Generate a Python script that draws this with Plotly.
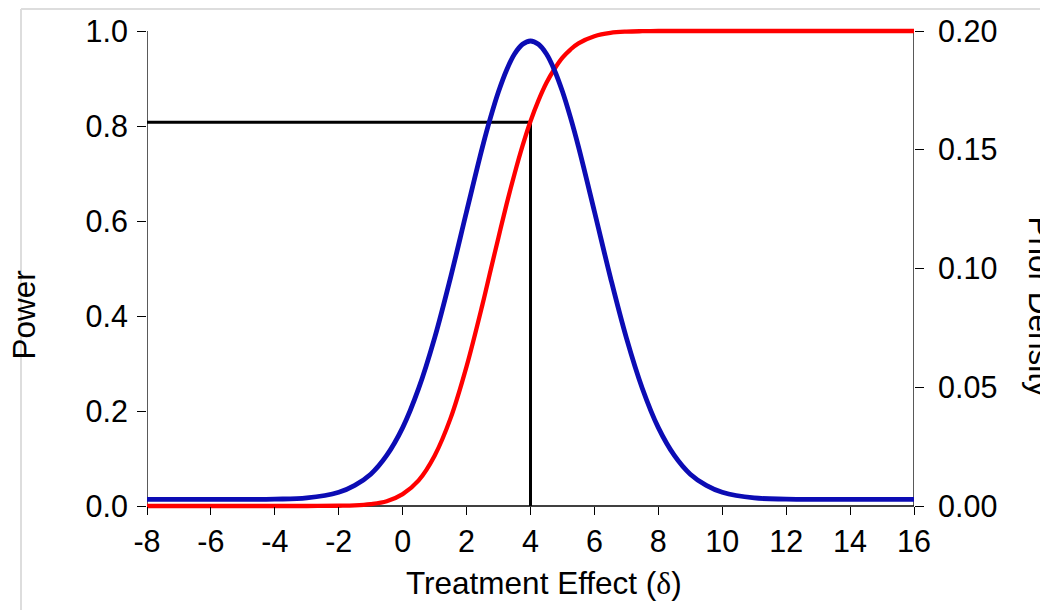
import plotly.graph_objects as go

# ---- data ----
effect = [-8, -7, -6, -5, -4, -3, -2, -1.5, -1, -0.5, 0, 0.5, 1, 1.5, 2, 2.5, 2.75, 3,
          3.25, 3.5, 3.75, 4, 4.25, 4.5, 4.75, 5, 5.25, 5.5, 6, 6.5, 7, 7.5, 8, 8.5, 9,
          9.5, 10, 11, 12, 13, 14, 15, 16]

power = [0.0, 0.0, 0.0, 0.0, 0.0, 0.0, 0.0005, 0.0013, 0.004, 0.010, 0.025, 0.054,
         0.106, 0.185, 0.294, 0.425, 0.496, 0.566, 0.635, 0.699, 0.758, 0.810, 0.854,
         0.891, 0.920, 0.944, 0.961, 0.974, 0.989, 0.996, 0.9987, 0.9996, 1.0, 1.0,
         1.0, 1.0, 1.0, 1.0, 1.0, 1.0, 1.0, 1.0, 1.0]

prior_density = [0.0028, 0.0028, 0.0028, 0.0028, 0.0029, 0.0034, 0.0058, 0.0087,
                 0.0134, 0.0213, 0.0330, 0.0495, 0.0708, 0.0963, 0.1240, 0.1513,
                 0.1636, 0.1745, 0.1835, 0.1903, 0.1944, 0.1958, 0.1944, 0.1903,
                 0.1835, 0.1745, 0.1636, 0.1513, 0.1240, 0.0963, 0.0708, 0.0495,
                 0.0330, 0.0213, 0.0134, 0.0087, 0.0058, 0.0034, 0.0029, 0.0028,
                 0.0028, 0.0028, 0.0028]

ref_x = [-8, 4, 4]
ref_y = [0.808, 0.808, 0.0]

x_ticks = list(range(-8, 17, 2))
y_ticks = [0.0, 0.2, 0.4, 0.6, 0.8, 1.0]
y2_ticks = [0.0, 0.05, 0.10, 0.15, 0.20]

FONT = "Liberation Sans, Arial, sans-serif"
FS_TICK = 30.5
FS_TITLE = 31.5

# layout geometry (page body adds an 8px offset)
W, H = 1048, 610
L, R, T, B = 139, 142, 19, 108
pad = 4 / 475.0  # small range padding so thick lines at 0 and 1 are not clipped

fig = go.Figure()

fig.add_trace(go.Scatter(x=ref_x, y=ref_y, mode="lines",
                         line=dict(color="#000000", width=3),
                         hoverinfo="skip", showlegend=False))
fig.add_trace(go.Scatter(x=effect, y=power, mode="lines", line_shape="spline",
                         line=dict(color="#FF0000", width=4.3),
                         showlegend=False, name="Power"))
fig.add_trace(go.Scatter(x=effect, y=prior_density, mode="lines", line_shape="spline",
                         line=dict(color="#0C0CB4", width=4.8),
                         showlegend=False, name="Prior Density", yaxis="y2"))

axis_common = dict(showgrid=False, zeroline=False, showline=False, automargin=False,
                   ticks="outside", tickcolor="#000000", tickwidth=1.3,
                   tickfont=dict(family=FONT, size=FS_TICK, color="#000000"))

fig.update_layout(
    template="none",
    width=W, height=H,
    margin=dict(l=L, r=R, t=T, b=B, pad=0, autoexpand=False),
    paper_bgcolor="white", plot_bgcolor="white",
    showlegend=False,
    xaxis=dict(range=[-8, 16], tickvals=x_ticks, ticktext=[str(v) for v in x_ticks],
               ticklen=8, anchor="free", position=pad / (1 + 2 * pad),
               **axis_common),
    yaxis=dict(range=[-pad, 1 + pad], tickvals=y_ticks,
               ticktext=[f"{v:.1f}" for v in y_ticks], ticklen=9,
               ticklabelstandoff=3, **axis_common),
    yaxis2=dict(range=[-0.2 * pad, 0.2 * (1 + pad)], tickvals=y2_ticks,
                ticktext=[f"{v:.2f}" for v in y2_ticks], ticklen=9,
                ticklabelstandoff=8,
                overlaying="y", side="right", **axis_common),
)

# axis lines
line_style = dict(color="#000000", width=1.3)
fig.add_shape(type="line", xref="x", yref="y", x0=-8, x1=-8, y0=0, y1=1,
              line=line_style, layer="below")
fig.add_shape(type="line", xref="x", yref="y", x0=16, x1=16, y0=0, y1=1,
              line=line_style, layer="below")
fig.add_shape(type="line", xref="x", yref="y", x0=-8, x1=16, y0=0, y1=0,
              line=line_style, layer="below")

pw, ph = W - L - R, H - T - B


def px(xp):
    return (xp - L) / pw


def py(yp):
    return ((H - B) - yp) / ph


# light grey frame (left and top edges)
frame = dict(color="#DDDDDD", width=2)
fig.add_shape(type="line", xref="paper", yref="paper",
              x0=px(13), x1=px(13), y0=py(1), y1=py(H + 5), line=frame, layer="below")
fig.add_shape(type="line", xref="paper", yref="paper",
              x0=px(13), x1=px(W + 5), y0=py(1), y1=py(1), line=frame, layer="below")

# axis titles
fig.add_annotation(text="Treatment Effect (<span style='font-family:Liberation Serif'>δ</span>)",
                   xref="paper", yref="paper", x=px(535.5), y=py(575),
                   xanchor="center", yanchor="middle", showarrow=False,
                   font=dict(family=FONT, size=FS_TITLE, color="#000000"))
fig.add_annotation(text="Power", textangle=-90,
                   xref="paper", yref="paper", x=px(15.5), y=py(307),
                   xanchor="center", yanchor="middle", showarrow=False,
                   font=dict(family=FONT, size=FS_TITLE, color="#000000"))
fig.add_annotation(text="Prior Density", textangle=90,
                   xref="paper", yref="paper", x=px(1031.5), y=py(299),
                   xanchor="center", yanchor="middle", showarrow=False,
                   font=dict(family=FONT, size=FS_TITLE, color="#000000"))

fig.write_html("out.html")
